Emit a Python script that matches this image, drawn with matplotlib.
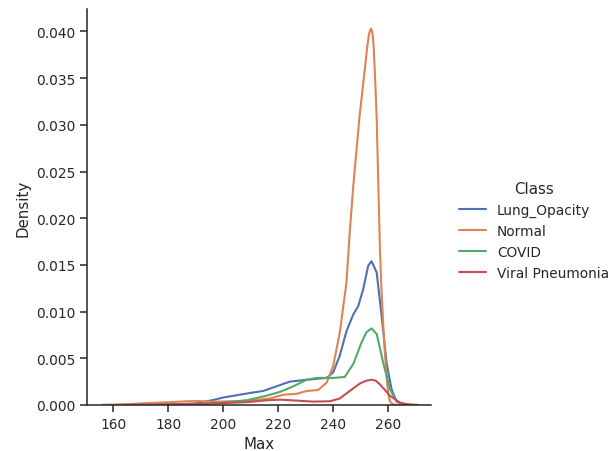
import matplotlib
matplotlib.use("Agg")
import matplotlib.pyplot as plt
import seaborn as sns

sns.set_theme(style="ticks")
plt.rcParams['font.family'] = ['DejaVu Sans']

classes = ["Lung_Opacity", "Normal", "COVID", "Viral Pneumonia"]
colors = ["#4C72B0", "#DD8452", "#55A868", "#C44E52"]

lung_x = [156, 165, 175, 184, 190.3, 196.4, 200, 206, 210, 214.5, 219.4, 224.2, 230.3, 234, 237.6, 240, 242.4,
          244.8, 247.3, 249.1, 250.9, 252.7, 253.9, 255.8, 257.6, 259.4, 261.2, 263, 264.8, 267, 270]
lung_y = [0, 0.00001, 0.00003, 0.00008, 0.00018, 0.00054, 0.0008, 0.0011, 0.0013, 0.0015, 0.002, 0.0025, 0.0027,
          0.0028, 0.0029, 0.0035, 0.0053, 0.0079, 0.0097, 0.0106, 0.0124, 0.0149, 0.0154, 0.0142, 0.0095, 0.0045,
          0.0017, 0.0004, 0.0001, 0.00001, 0]

normal_x = [156, 160, 166, 172, 180.6, 186.7, 191, 196.4, 203.6, 210.9, 217, 221.8, 226.7, 230.3, 234.5, 237.6,
            240, 242.4, 244.8, 246, 247.3, 249.5, 251.5, 252.3, 253.0, 253.6, 254.1, 254.5, 254.8, 255.3, 255.8,
            256.4, 257, 257.6, 258.2, 258.8, 259.4, 260, 260.6, 261.5, 263, 266]
normal_y = [0.00001, 0.00004, 0.0001, 0.0002, 0.0003, 0.0004, 0.00042, 0.00035, 0.0004, 0.0005, 0.0007, 0.0011,
            0.0012, 0.0015, 0.0016, 0.0024, 0.0042, 0.0078, 0.0131, 0.0185, 0.0235, 0.0307, 0.036, 0.0382, 0.0397,
            0.0403, 0.0401, 0.0392, 0.0378, 0.0345, 0.0307, 0.0235, 0.0165, 0.0120, 0.0085, 0.0055, 0.0030, 0.0012,
            0.0004, 0.0001, 0.00002, 0]

covid_x = [165, 180, 190, 200, 208.5, 215.8, 220.6, 225.5, 230.3, 233.9, 237, 240, 244.2, 247.3, 250.3, 252.1,
           253.9, 255.8, 258.2, 260.6, 263, 265.5, 268]
covid_y = [0, 0.00003, 0.0001, 0.00025, 0.0005, 0.001, 0.0014, 0.002, 0.0027, 0.0029, 0.0029, 0.0029, 0.003,
           0.0044, 0.0067, 0.0078, 0.0082, 0.0076, 0.0045, 0.0017, 0.0004, 0.0001, 0]

viral_x = [165, 180, 190, 200, 208.5, 215.8, 220.6, 226.7, 232.7, 238.8, 242.4, 246, 249.7, 252, 253.9, 255.5,
           257, 260.6, 264.2, 267, 269.1, 271]
viral_y = [0, 0.00005, 0.0001, 0.0002, 0.0003, 0.0005, 0.00057, 0.00047, 0.00036, 0.0004, 0.0007, 0.0015, 0.0023,
           0.0026, 0.0027, 0.0026, 0.0022, 0.001, 0.00025, 0.00008, 0.00003, 0]

series = [(lung_x, lung_y), (normal_x, normal_y), (covid_x, covid_y), (viral_x, viral_y)]

fig = plt.figure(figsize=(6.12, 4.52), dpi=100)
ax = fig.add_axes([0.142, 0.1018, 0.562, 0.876])
handles = []
for (xs, ys), name, c in zip(series, classes, colors):
    h, = ax.plot(xs, ys, color=c, lw=1.5, label=name)
    handles.append(h)

ax.set_xlim(150.4, 275.5)
ax.set_ylim(0, 0.0424)
ax.set_xticks([160, 180, 200, 220, 240, 260])
ax.set_yticks([0, 0.005, 0.01, 0.015, 0.02, 0.025, 0.03, 0.035, 0.04])
ax.yaxis.set_major_formatter(matplotlib.ticker.FormatStrFormatter('%.3f'))
ax.set_xlabel("Max", fontsize=10.8)
ax.set_ylabel("Density", fontsize=10.8)
ax.tick_params(labelsize=9.9, width=1.1, length=5)
for s in ax.spines.values():
    s.set_linewidth(1.1)
sns.despine(ax=ax)

leg = fig.legend(handles=handles, labels=classes, title="Class", loc="center left",
                 bbox_to_anchor=(0.729, 0.488), frameon=False, fontsize=9.9, title_fontsize=10.8)
fig.savefig("out.png", dpi=100)
